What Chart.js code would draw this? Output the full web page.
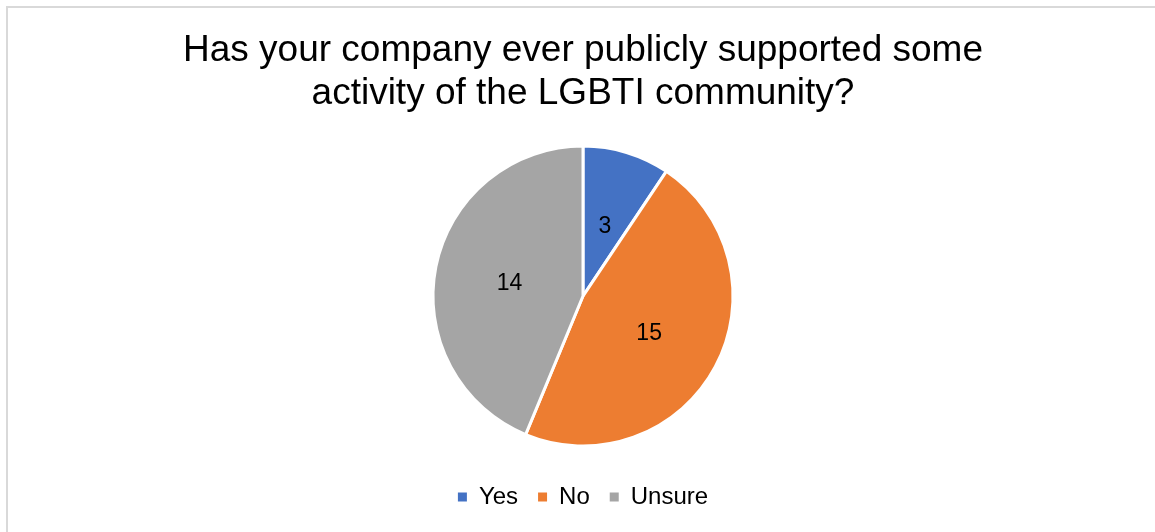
<!DOCTYPE html>
<html>
<head>
<meta charset="utf-8">
<script src="https://cdn.jsdelivr.net/npm/chart.js@4/dist/chart.umd.min.js"></script>
<style>
  html, body { margin: 0; padding: 0; background: #fff; overflow: hidden; }
  #frame {
    position: absolute; left: 6px; top: 6px;
    width: 1200px; height: 600px;
    border-left: 2px solid #d9d9d9; border-top: 2px solid #d9d9d9;
    background: #fff;
  }
  #chart { position: absolute; left: 0; top: 0; }
</style>
</head>
<body>
<div id="frame"><canvas id="chart" width="1150" height="524"></canvas></div>
<script>
// Survey answers
const titleLines = ['Has your company ever publicly supported some', 'activity of the LGBTI community?'];
const categories = ['Yes', 'No', 'Unsure'];
const counts = [3, 15, 14];
const sliceColors = ['#4472C4', '#ED7D31', '#A5A5A5'];

const FONT = '"Liberation Sans", Arial, Helvetica, sans-serif';

// Writes each slice's count at the midpoint of its radius
const sliceValueLabels = {
  id: 'sliceValueLabels',
  afterDatasetsDraw(chart) {
    const ctx = chart.ctx;
    const meta = chart.getDatasetMeta(0);
    ctx.save();
    ctx.font = '23px ' + FONT;
    ctx.fillStyle = '#000';
    ctx.textAlign = 'center';
    ctx.textBaseline = 'middle';
    meta.data.forEach((arc, i) => {
      const p = arc.tooltipPosition();
      ctx.fillText(String(chart.data.datasets[0].data[i]), p.x, p.y + 2);
    });
    ctx.restore();
  }
};

// Legend squares are filled solid, without the white slice outline
const pieLegendLabels = Chart.overrides.pie.plugins.legend.labels.generateLabels;

new Chart(document.getElementById('chart'), {
  type: 'pie',
  data: {
    labels: categories,
    datasets: [{
      data: counts,
      backgroundColor: sliceColors,
      borderColor: '#ffffff',
      borderWidth: 3,
      radius: 150
    }]
  },
  options: {
    responsive: false,
    animation: false,
    devicePixelRatio: 1,
    layout: { padding: { top: 0, bottom: 13, left: 0, right: 0 } },
    plugins: {
      title: {
        display: true,
        text: titleLines,
        color: '#000',
        font: { family: FONT, size: 37, weight: 'normal', lineHeight: 1.15 },
        padding: { top: 22, bottom: 12 }
      },
      legend: {
        display: true,
        position: 'bottom',
        labels: {
          color: '#000',
          font: { family: FONT, size: 24 },
          boxWidth: 9,
          boxHeight: 9,
          padding: 20,
          generateLabels(chart) {
            return pieLegendLabels(chart).map(item => Object.assign(item, { lineWidth: 0, strokeStyle: item.fillStyle }));
          }
        }
      },
      tooltip: { enabled: false }
    }
  },
  plugins: [sliceValueLabels]
});
</script>
</body>
</html>
